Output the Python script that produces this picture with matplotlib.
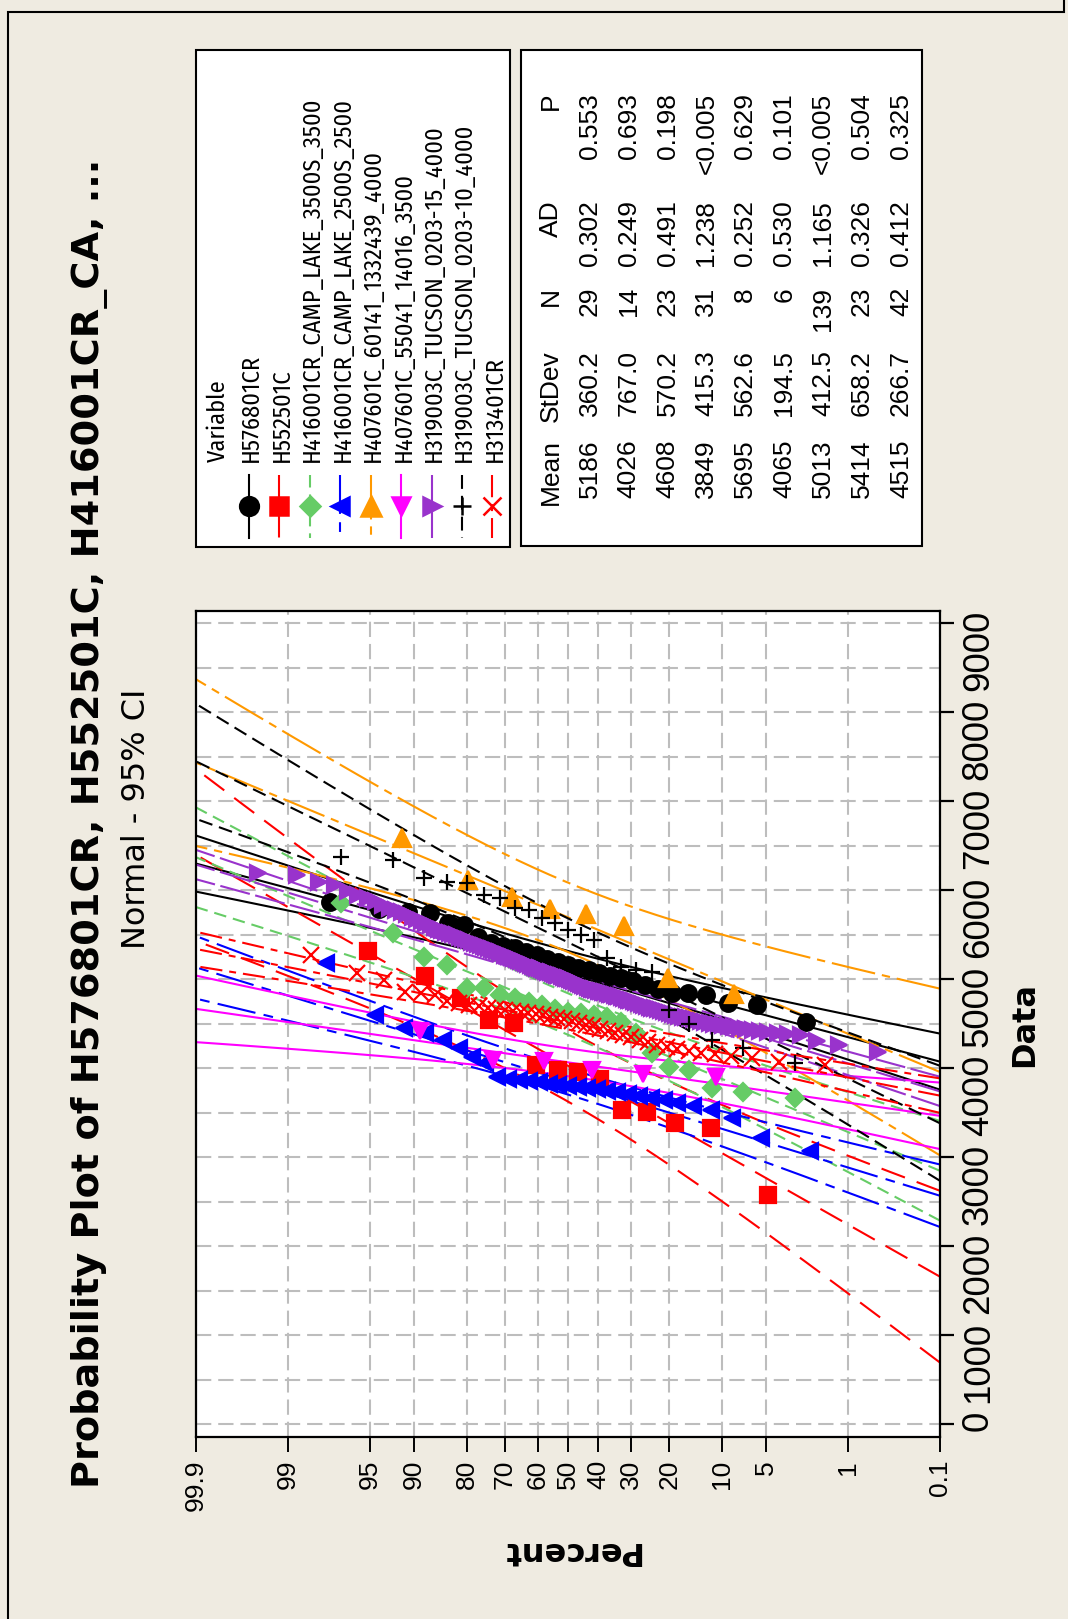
import matplotlib
matplotlib.use('Agg')
import matplotlib.pyplot as plt
import numpy as np
from statistics import NormalDist
from matplotlib.patches import Rectangle

plt.rcParams['lines.scale_dashes'] = False

W, H = 1068, 1619
nd = NormalDist()

names = ['H576801CR', 'H552501C', 'H416001CR_CAMP_LAKE_3500S_3500',
         'H416001CR_CAMP_LAKE_2500S_2500', 'H407601C_60141_1332439_4000',
         'H407601C_55041_14016_3500', 'H319003C_TUCSON_0203-15_4000',
         'H319003C_TUCSON_0203-10_4000', 'H313401CR']
means = [5186, 4026, 4608, 3849, 5695, 4065, 5013, 5414, 4515]
stdevs = [360.2, 767.0, 570.2, 415.3, 562.6, 194.5, 412.5, 658.2, 266.7]
counts = [29, 14, 23, 31, 8, 6, 139, 23, 42]
ad_vals = ['0.302', '0.249', '0.491', '1.238', '0.252', '0.530', '1.165', '0.326', '0.412']
p_vals = ['0.553', '0.693', '0.198', '<0.005', '0.629', '0.101', '<0.005', '0.504', '0.325']

pct_ticks = [99.9, 99, 95, 90, 80, 70, 60, 50, 40, 30, 20, 10, 5, 1, 0.1]
pct_labels = ['99.9', '99', '95', '90', '80', '70', '60', '50', '40', '30', '20', '10', '5', '1', '0.1']

# data (sorted)
h576801cr = [4522, 4709, 4729, 4822, 4841, 4841, 4890, 4935, 4975, 5010, 5040, 5070, 5100, 5130,
             5160, 5195, 5230, 5270, 5310, 5345, 5375, 5405, 5477, 5609, 5628, 5740, 5758, 5790, 5871]
h552501c = [2574, 3324, 3380, 3510, 3529, 3880, 3960, 3979, 4035, 4511, 4540, 4785, 5036, 5320]
h416_3500 = [3661, 3735, 3777, 3979, 4016, 4170, 4395, 4522, 4578, 4597, 4620, 4634, 4660, 4709,
             4747, 4785, 4822, 4897, 4897, 5159, 5250, 5520, 5853]
h416_2500 = [3070, 3210, 3436, 3529, 3570, 3605, 3640, 3661, 3690, 3712, 3730, 3748, 3765, 3775,
             3785, 3800, 3815, 3825, 3840, 3850, 3865, 3880, 3900, 4054, 4128, 4223, 4316, 4400,
             4448, 4597, 5180]
h407_60141 = [4838, 5013, 5592, 5732, 5788, 5929, 6114, 6581]
h407_55041 = [3895, 3930, 3975, 4080, 4090, 4420]
h319_15 = [4185, 4260, 4310, 4372, 4388, 4400, 4410, 4421, 4430, 4440,
           4452, 4458, 4470, 4481, 4489, 4500, 4512, 4519, 4530, 4542,
           4549, 4561, 4570, 4578, 4591, 4600, 4609, 4622, 4630, 4641,
           4650, 4659, 4672, 4680, 4688, 4701, 4710, 4718, 4731, 4740,
           4749, 4761, 4770, 4778, 4791, 4800, 4808, 4816, 4822, 4830,
           4838, 4843, 4851, 4860, 4866, 4871, 4880, 4887, 4892, 4900,
           4912, 4921, 4934, 4943, 4954, 4967, 4976, 4989, 4998, 5010,
           5017, 5027, 5033, 5043, 5049, 5059, 5065, 5075, 5081, 5090,
           5101, 5109, 5121, 5129, 5141, 5149, 5161, 5169, 5181, 5190,
           5202, 5211, 5224, 5233, 5246, 5255, 5268, 5277, 5290, 5300,
           5313, 5323, 5337, 5347, 5361, 5371, 5385, 5395, 5409, 5420,
           5435, 5447, 5463, 5475, 5491, 5503, 5519, 5531, 5547, 5560,
           5585, 5607, 5633, 5655, 5681, 5703, 5729, 5751, 5777, 5800,
           5839, 5875, 5915, 5951, 5990, 6058, 6095, 6171, 6190]
h319_10 = [4054, 4226, 4316, 4500, 4650, 5084, 5103, 5140, 5234, 5440, 5496, 5553, 5628, 5684,
           5778, 5800, 5909, 5946, 6077, 6095, 6133, 6339, 6376]
h313401cr = [4035, 4072, 4110, 4135, 4155, 4175, 4195, 4215, 4240, 4265, 4295, 4320, 4345, 4370,
             4395, 4420, 4445, 4470, 4490, 4510, 4530, 4548, 4563, 4578, 4593, 4607, 4620, 4632,
             4644, 4656, 4668, 4681, 4695, 4712, 4730, 4752, 4822, 4841, 4859, 4990, 5066, 5272]
series = [h576801cr, h552501c, h416_3500, h416_2500, h407_60141, h407_55041, h319_15, h319_10, h313401cr]

colors = ['black', '#FF0000', '#66CC66', '#0000FF', '#FF9900', '#FF00FF', '#9933CC', 'black', '#FF0000']
styles = ['-', (0, (18, 9)), (0, (9, 5)), (0, (28, 6, 7, 6)), (0, (32, 5, 6, 5)), '-',
          (0, (22, 4)), (0, (10, 5)), (0, (16, 5, 5, 5))]
markers = ['o', 's', 'D', '<', '^', 'v', '>', '+', 'x']
msizes = [12, 11.5, 9, 12, 13, 12, 12, 11, 11]

bg = '#EFEBE1'
fig = plt.figure(figsize=(W / 100, H / 100), dpi=100, facecolor=bg)

# overlay in pixel coordinates for the rotated text, legend and table
ov = fig.add_axes([0, 0, 1, 1])
ov.set_xlim(0, W)
ov.set_ylim(H, 0)
ov.axis('off')
ov.plot([8, 8, 1064, 1064], [H, 12, 12, 0], color='black', lw=1.5, solid_joinstyle='miter')

ov.text(99, 823, 'Probability Plot of H576801CR, H552501C, H416001CR_CA, ...', rotation=90,
        rotation_mode='anchor', ha='center', va='baseline', fontsize=27.5, fontweight='bold')
ov.text(145, 819, 'Normal - 95% CI', rotation=90, rotation_mode='anchor', ha='center',
        va='baseline', fontsize=23)
ov.text(1033, 1024, 'Data', rotation=90, rotation_mode='anchor', ha='center', va='baseline',
        fontsize=23, fontweight='bold')
ov.text(570, 1542, 'Percent', rotation=180, rotation_mode='anchor', ha='center', va='baseline',
        fontsize=23, fontweight='bold')

# legend box
ov.add_patch(Rectangle((196, 50), 314, 497, fc='white', ec='black', lw=1.5))
leg_font = ['Fira Sans Condensed', 'Liberation Sans']
ov.text(225, 462, 'Variable', rotation=90, rotation_mode='anchor', ha='left', va='baseline',
        fontsize=17.5, family=leg_font)
for k in range(9):
    bx = 258.3 + 30.43 * k
    mx = bx - 9.3
    ov.plot([mx, mx], [475, 538], color=colors[k], ls=styles[k], lw=1.5)
    ov.plot([mx], [505.7], ls='none', marker=markers[k], ms=msizes[k] + 1.5, color=colors[k],
            mew=1.8)
    ov.text(bx, 462, names[k], rotation=90, rotation_mode='anchor', ha='left', va='baseline',
            fontsize=17.5, family=leg_font)

# stats table box
ov.add_patch(Rectangle((521, 50), 401, 496, fc='white', ec='black', lw=1.5))
col_end = [439, 350, 287, 200, 93]
header = ['Mean', 'StDev', 'N', 'AD', 'P']
for c in range(5):
    ov.text(558.3, col_end[c], header[c], rotation=90, rotation_mode='anchor', ha='right',
            va='baseline', fontsize=19, family='Liberation Sans')
for k in range(9):
    row = [str(means[k]), f'{stdevs[k]:.1f}', str(counts[k]), ad_vals[k], p_vals[k]]
    bx = 596.7 + 38.9 * k
    for c in range(5):
        ov.text(bx, col_end[c], row[c], rotation=90, rotation_mode='anchor', ha='right',
                va='baseline', fontsize=19, family='Liberation Sans')

# main probability plot
ax = fig.add_axes([196 / W, 1 - 1437 / H, 744 / W, 826 / H])
ax.set_facecolor('white')
zlo, zhi = nd.inv_cdf(0.001), nd.inv_cdf(0.999)
ax.set_xlim(zhi, zlo)
ax.set_ylim(-146, 9138)
ax.set_xticks([nd.inv_cdf(p / 100) for p in pct_ticks])
ax.set_xticklabels(pct_labels)
ax.set_yticks(np.arange(0, 9001, 1000))
ax.set_yticks(np.arange(500, 9000, 1000), minor=True)
ax.set_axisbelow(True)
ax.grid(True, which='both', color='#BDBDBD', lw=1.5, ls=(0, (11, 5)))
for sp in ax.spines.values():
    sp.set_linewidth(1.6)
ax.tick_params(axis='x', direction='out', length=10.5, width=1.4, pad=6, labelrotation=90,
               labelsize=19)
ax.tick_params(axis='y', which='major', direction='out', length=10, width=1.6, left=False,
               right=True, labelleft=False, labelright=True, labelrotation=90, labelsize=26.5,
               pad=5)
ax.tick_params(axis='y', which='minor', length=0)
for lab in ax.get_xticklabels() + ax.get_yticklabels():
    lab.set_family('Liberation Sans')

zz = np.linspace(zlo, zhi, 300)
for k in range(9):
    m, s, n = means[k], stdevs[k], counts[k]
    fit = m + s * zz
    half = 1.96 * s * np.sqrt(1.0 / n + zz ** 2 / (2.0 * n))
    for yy in (fit, fit - half, fit + half):
        ax.plot(zz, yy, color=colors[k], ls=styles[k], lw=1.5, zorder=2)

for k in range(9):
    vals = np.sort(np.array(series[k], dtype=float))
    n = len(vals)
    pp = (np.arange(1, n + 1) - 0.3) / (n + 0.4)
    zs = [nd.inv_cdf(p) for p in pp]
    ax.plot(zs, vals, ls='none', marker=markers[k], ms=msizes[k], color=colors[k], mew=1.6,
            zorder=3)

fig.savefig('out.png', dpi=100, facecolor=bg)
